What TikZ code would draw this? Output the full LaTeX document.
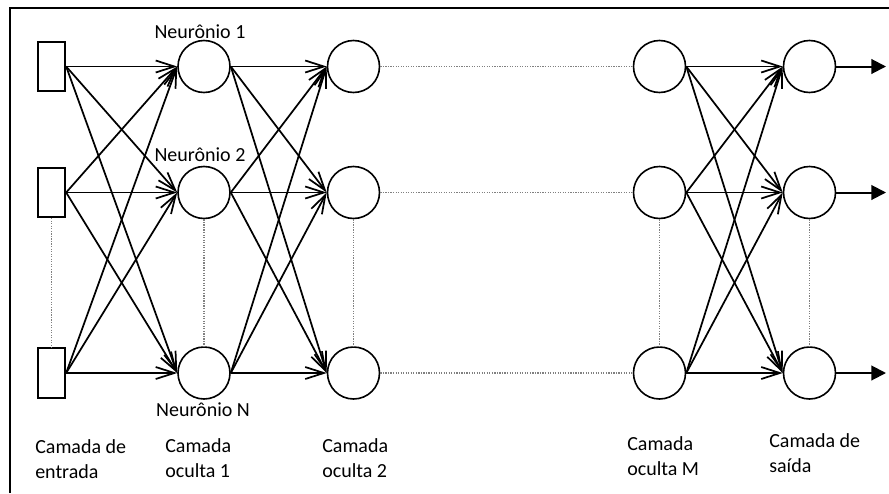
\documentclass[tikz,border=0pt]{standalone}
\usepackage{fontspec}
\setmainfont{Carlito}
\usetikzlibrary{arrows.meta}
\tikzset{
  inbox/.style={draw,line width=1.4pt,minimum width=20.6pt,minimum height=37pt,inner sep=0pt},
  neuron/.style={draw,circle,line width=1.2pt,minimum size=39pt,inner sep=0pt},
  conn/.style={line width=1.3pt,-{Straight Barb[length=14pt,width=9pt]}},
  outarrow/.style={line width=1.5pt,-{Triangle[length=11pt,width=11pt]}},
  dotline/.style={gray,line width=0.9pt,densely dotted},
  txt/.style={font=\fontsize{15}{18.75}\selectfont,inner sep=0pt},
  layertxt/.style={txt,align=left,anchor=base west}
}
\begin{document}
\begin{tikzpicture}[x=0.75pt,y=-0.75pt]
  \useasboundingbox (0,0) rectangle (889,493);
  \draw[line width=2.2pt] (10,493) -- (10,8) -- (889,8);
  % entrada
  \node[inbox] (in1) at (51.5,66.5) {};
  \node[inbox] (in2) at (51.5,192.5) {};
  \node[inbox] (in3) at (51.5,373) {};
  % camadas ocultas e saida
  \node[neuron] (ha1) at (204,66.5) {};
  \node[neuron] (ha2) at (204,192.5) {};
  \node[neuron] (ha3) at (204,373) {};
  \node[neuron] (hb1) at (353.5,66.5) {};
  \node[neuron] (hb2) at (353.5,192.5) {};
  \node[neuron] (hb3) at (353.5,373) {};
  \node[neuron] (hm1) at (659.5,66.5) {};
  \node[neuron] (hm2) at (659.5,192.5) {};
  \node[neuron] (hm3) at (659.5,373) {};
  \node[neuron] (out1) at (809.5,66.5) {};
  \node[neuron] (out2) at (809.5,192.5) {};
  \node[neuron] (out3) at (809.5,373) {};
  \coordinate (y1) at (886,66.5);
  \coordinate (y2) at (886,192.5);
  \coordinate (y3) at (886,373);
  % rotulos
  \node[txt] (n1) at (200,32) {Neurônio 1};
  \node[txt] (n2) at (200,155) {Neurônio 2};
  \node[txt] (nN) at (203,410) {Neurônio N};
  \node[layertxt] (lin) at (35,478) {Camada de\\entrada};
  \node[layertxt] (lha) at (165,477) {Camada\\oculta 1};
  \node[layertxt] (lhb) at (322,477) {Camada\\oculta 2};
  \node[layertxt] (lhm) at (627,475) {Camada\\oculta M};
  \node[layertxt] (lout) at (769,472) {Camada de\\saída};
  % pontilhados
  \draw[dotline] (in2.south) -- (in3.north);
  \draw[dotline] (ha2.south) -- (ha3.north);
  \draw[dotline] (hb2.south) -- (hb3.north);
  \draw[dotline] (hm2.south) -- (hm3.north);
  \draw[dotline] (out2.south) -- (out3.north);
  \draw[dotline] (hb1.east) -- (hm1.west);
  \draw[dotline] (hb2.east) -- (hm2.west);
  \draw[dotline] (hb3.east) -- (hm3.west);
  % entrada -> oculta 1
  \draw[conn] (in1.east) -- (ha1.west);
  \draw[conn] (in1.east) -- (ha2.west);
  \draw[conn] (in1.east) -- (ha3.west);
  \draw[conn] (in2.east) -- (ha1.west);
  \draw[conn] (in2.east) -- (ha2.west);
  \draw[conn] (in2.east) -- (ha3.west);
  \draw[conn] (in3.east) -- (ha1.west);
  \draw[conn] (in3.east) -- (ha2.west);
  \draw[conn] (in3.east) -- (ha3.west);
  % oculta 1 -> oculta 2
  \draw[conn] (ha1.east) -- (hb1.west);
  \draw[conn] (ha1.east) -- (hb2.west);
  \draw[conn] (ha1.east) -- (hb3.west);
  \draw[conn] (ha2.east) -- (hb1.west);
  \draw[conn] (ha2.east) -- (hb2.west);
  \draw[conn] (ha2.east) -- (hb3.west);
  \draw[conn] (ha3.east) -- (hb1.west);
  \draw[conn] (ha3.east) -- (hb2.west);
  \draw[conn] (ha3.east) -- (hb3.west);
  % oculta M -> saida
  \draw[conn] (hm1.east) -- (out1.west);
  \draw[conn] (hm1.east) -- (out2.west);
  \draw[conn] (hm1.east) -- (out3.west);
  \draw[conn] (hm2.east) -- (out1.west);
  \draw[conn] (hm2.east) -- (out2.west);
  \draw[conn] (hm2.east) -- (out3.west);
  \draw[conn] (hm3.east) -- (out1.west);
  \draw[conn] (hm3.east) -- (out2.west);
  \draw[conn] (hm3.east) -- (out3.west);
  % saidas
  \draw[outarrow] (out1.east) -- (y1);
  \draw[outarrow] (out2.east) -- (y2);
  \draw[outarrow] (out3.east) -- (y3);
\end{tikzpicture}
\end{document}
